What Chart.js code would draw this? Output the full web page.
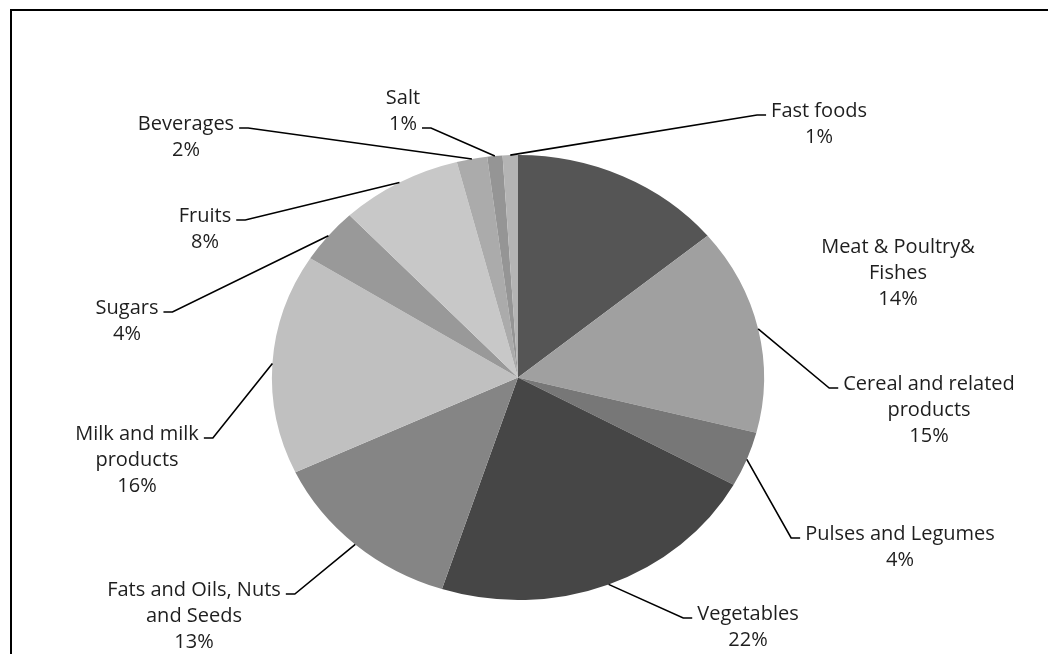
<!DOCTYPE html>
<html>
<head>
<meta charset="utf-8">
<script src="https://cdn.jsdelivr.net/npm/chart.js@4.4.1/dist/chart.umd.min.js"></script>
<style>
  html, body { margin: 0; background: #fff; }
  #wrap { width: 1048px; height: 654px; position: relative; }
</style>
</head>
<body>
<div id="wrap"><canvas id="pie"></canvas></div>
<script>
const categories = [
  ['Meat & Poultry&', 'Fishes'],
  ['Cereal and related', 'products'],
  ['Pulses and Legumes'],
  ['Vegetables'],
  ['Fats and Oils, Nuts', 'and Seeds'],
  ['Milk and milk', 'products'],
  ['Sugars'],
  ['Fruits'],
  ['Beverages'],
  ['Salt'],
  ['Fast foods']
];
const shares = [14, 15, 4, 22, 13, 16, 4, 8, 2, 1, 1];
const sliceColors = ['#555555', '#a0a0a0', '#777777', '#464646', '#858585', '#c0c0c0',
                     '#999999', '#c8c8c8', '#ababab', '#959595', '#b4b4b4'];

// where each label sits (page px): centre x, first line y; which line the leader joins
const labelX = [898, 929, 900, 748, 194, 137, 127, 205, 186, 403, 819];
const labelY = [247, 384, 534, 614, 590, 434, 308, 216, 124, 98, 111];
const leaderLine = ['none', 'first', 'first', 'first', 'first', 'first', 'first', 'first', 'first', 'last', 'first'];

const stretchX = 1.106;   // the original pie is a little wider than tall
const lineGap = 26;

// draw the arcs squashed into an ellipse around the pie centre
const ellipse = {
  id: 'ellipse',
  beforeDatasetsDraw(chart) {
    const arc = chart.getDatasetMeta(0).data[0];
    const ctx = chart.ctx;
    ctx.save();
    ctx.translate(arc.x, arc.y);
    ctx.scale(stretchX, 1);
    ctx.translate(-arc.x, -arc.y);
  },
  afterDatasetsDraw(chart) {
    chart.ctx.restore();
  }
};

const leaders = {
  id: 'leaders',
  afterDraw(chart) {
    const ctx = chart.ctx;
    const total = shares.reduce((a, b) => a + b, 0);
    ctx.save();
    ctx.strokeStyle = '#000';
    ctx.lineWidth = 2;
    ctx.strokeRect(11, 10, 1200, 1200);

    ctx.font = '20px "Open Sans"';
    ctx.textAlign = 'center';
    ctx.textBaseline = 'middle';
    ctx.lineWidth = 1.6;
    chart.getDatasetMeta(0).data.forEach((arc, i) => {
      const lines = categories[i].concat([Math.round(shares[i] / total * 100) + '%']);
      ctx.fillStyle = '#1e1e1e';
      lines.forEach((t, k) => ctx.fillText(t, labelX[i], labelY[i] + k * lineGap));
      if (leaderLine[i] === 'none') return;

      const k = leaderLine[i] === 'last' ? lines.length - 1 : 0;
      const w = ctx.measureText(lines[k]).width;
      const mid = (arc.startAngle + arc.endAngle) / 2;
      const px = arc.x + Math.cos(mid) * arc.outerRadius * stretchX;
      const py = arc.y + Math.sin(mid) * arc.outerRadius;
      const left = labelX[i] < arc.x;
      const edge = left ? labelX[i] + w / 2 + 5 : labelX[i] - w / 2 - 5;
      const elbow = left ? edge + 9 : edge - 9;
      const ly = labelY[i] + k * lineGap + 4;
      ctx.beginPath();
      ctx.moveTo(edge, ly);
      ctx.lineTo(elbow, ly);
      ctx.lineTo(px, py);
      ctx.stroke();
    });
    ctx.restore();
  }
};

new Chart(document.getElementById('pie'), {
  type: 'pie',
  data: {
    labels: categories,
    datasets: [{
      data: shares,
      backgroundColor: sliceColors,
      borderWidth: 0,
      hoverOffset: 0,
      clip: false
    }]
  },
  options: {
    responsive: true,
    maintainAspectRatio: false,
    animation: false,
    layout: { padding: { left: 295.5, right: 307.5, top: 155, bottom: 54 } },
    plugins: {
      legend: { display: false },
      tooltip: { enabled: false }
    }
  },
  plugins: [ellipse, leaders]
});
</script>
</body>
</html>
